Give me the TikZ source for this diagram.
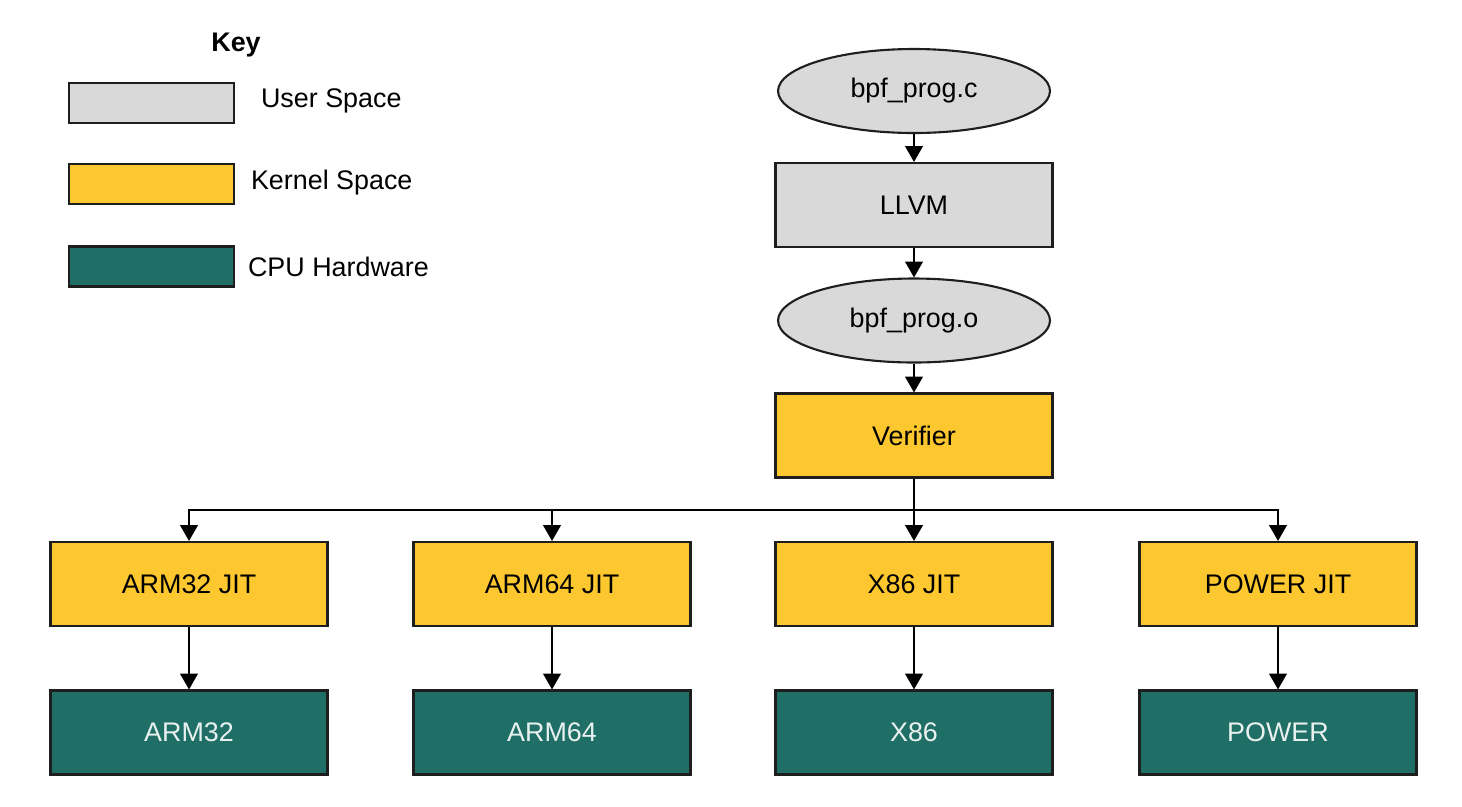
\documentclass[tikz,border=0pt]{standalone}
\usepackage{fontspec}
\setmainfont{Liberation Sans}
\usetikzlibrary{arrows.meta,shapes.geometric}

\definecolor{userGray}{RGB}{217,217,217}
\definecolor{kernelYellow}{RGB}{253,200,47}
\definecolor{cpuTeal}{RGB}{31,111,102}
\definecolor{edgeGray}{RGB}{30,30,30}

\tikzset{
    lbl/.style={font=\fontsize{15.3pt}{18pt}\selectfont},
    block/.style={lbl, draw=edgeGray, line width=1.2pt, minimum width=5.54cm, minimum height=1.68cm, inner sep=0pt},
    userblock/.style={block, fill=userGray},
    kernelblock/.style={block, fill=kernelYellow},
    cpublock/.style={block, fill=cpuTeal, text=white!90!cpuTeal},
    fileblob/.style={lbl, ellipse, draw=edgeGray, line width=1.2pt, fill=userGray, minimum width=5.44cm, minimum height=1.68cm, inner sep=0pt},
    keybox/.style={draw=edgeGray, line width=1.2pt, minimum width=3.3cm, minimum height=0.8cm, inner sep=0pt},
    keytext/.style={lbl, anchor=west, inner sep=0pt}
}

\begin{document}
\begin{tikzpicture}[x=0.02cm, y=-0.02cm, >={Triangle[length=9pt,width=10pt]}, line width=1.2pt]
    \useasboundingbox (0,0) rectangle (1462,806);

    % key
    \node[lbl, font=\fontsize{15.3pt}{18pt}\selectfont\bfseries] (key) at (236,45) {Key};
    \node[keybox, fill=userGray] (kuser) at (151.5,103) {};
    \node[keybox, fill=kernelYellow] (kkernel) at (151.5,184) {};
    \node[keybox, fill=cpuTeal] (kcpu) at (151.5,266.5) {};
    \node[keytext] (tuser) at (260,101) {User Space};
    \node[keytext] (tkernel) at (250,183) {Kernel Space};
    \node[keytext] (tcpu) at (247,267) {CPU Hardware};

    % build chain
    \node[fileblob] (src) at (914,91) {bpf\_prog.c};
    \node[userblock] (llvm) at (914,205) {LLVM};
    \node[fileblob] (obj) at (914,320.5) {bpf\_prog.o};
    \node[kernelblock] (ver) at (914,435.5) {Verifier};

    \draw[->] (src) -- (llvm);
    \draw[->] (llvm) -- (obj);
    \draw[->] (obj) -- (ver);

    \coordinate (bus) at (914,510);
    \draw (ver) -- (bus);

    % one JIT per architecture
    \foreach \x/\arch/\n in {189/ARM32/armA, 552/ARM64/armB, 914/X86/xeb, 1278/POWER/pwr}
    {
        \node[kernelblock] (jit\n) at (\x,584) {\arch{} JIT};
        \node[cpublock] (hw\n) at (\x,732.5) {\arch};
        \draw[->] (bus) -| (jit\n);
        \draw[->] (jit\n) -- (hw\n);
    }

\end{tikzpicture}
\end{document}
